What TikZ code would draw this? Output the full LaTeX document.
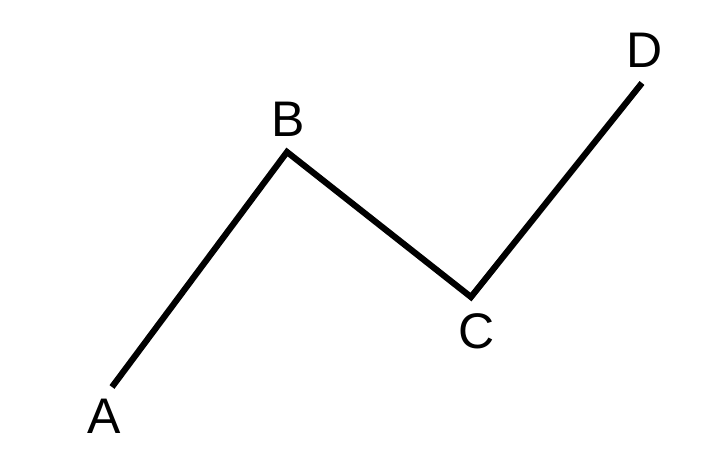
\documentclass[tikz,border=0pt]{standalone}
\usepackage{fontspec}
\setmainfont{Liberation Sans}
\begin{document}
\begin{tikzpicture}[x=1pt,y=-1pt,
  lbl/.style={inner sep=0pt,font=\fontsize{50}{60}\selectfont,anchor=center},
  polyline/.style={line width=6.2pt,line join=miter,line cap=butt}]
\useasboundingbox (0,0) rectangle (723,474);
\coordinate (pA) at (112,387);
\coordinate (pB) at (287,152);
\coordinate (pC) at (471,297);
\coordinate (pD) at (642,83);
\node[lbl] (A) at (104,416.5) {A};
\node[lbl] (B) at (288,119) {B};
\node[lbl] (C) at (477,331) {C};
\node[lbl] (D) at (645,50) {D};
\draw[polyline] (pA) -- (pB) -- (pC) -- (pD);
\end{tikzpicture}
\end{document}
